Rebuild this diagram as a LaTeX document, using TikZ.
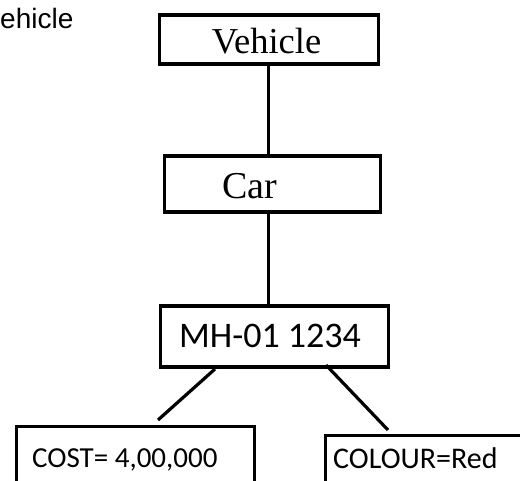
\documentclass[tikz,border=0pt]{standalone}
\usepackage{fontspec}
\setmainfont{Liberation Serif}
\newfontfamily\arialf{Liberation Sans}
\newfontfamily\calibrif{Carlito}
\begin{document}
\begin{tikzpicture}[x=1pt,y=-1pt,
  box/.style={draw=black, line width=3.3pt, inner sep=0pt, anchor=north west},
  conn/.style={draw=black, line width=3.2pt},
  lbl/.style={inner sep=0pt, anchor=base}]
\useasboundingbox (0,0) rectangle (520,481);
\clip (0,0) rectangle (520,481);
% side caption (cropped in the reference)
\node[inner sep=0pt, anchor=base west, font=\arialf\fontsize{28}{33}\selectfont] (cap) at (0,29) {ehicle};
% boxes
\node[box, minimum width=219pt, minimum height=49pt] (vehicle) at (157.5,13.5) {};
\node[box, minimum width=216pt, minimum height=56pt] (car) at (162.5,154.5) {};
\node[box, minimum width=228pt, minimum height=61pt] (mh) at (158.5,304.5) {};
\node[box, minimum width=238pt, minimum height=100pt] (cost) at (14.5,424.5) {};
\node[box, minimum width=250pt, minimum height=100pt] (colour) at (323.5,433.5) {};
% labels
\node[lbl, font=\fontsize{36.5}{42}\selectfont] (vehicletext) at (266.5,53.5) {Vehicle};
\node[lbl, font=\fontsize{38}{44}\selectfont] (cartext) at (249.5,198.5) {Car};
\node[lbl, font=\calibrif\fontsize{36}{42}\selectfont] (mhtext) at (270,348) {MH-01 1234};
\node[lbl, anchor=base west, font=\calibrif\fontsize{29}{34}\selectfont] (costtext) at (32,467) {COST= 4,00,000};
\node[lbl, anchor=base west, font=\calibrif\fontsize{30}{35}\selectfont] (colourtext) at (333,468) {COLOUR=Red};
% connectors
\draw[conn] (vehicle.south) -- (vehicle.south |- car.north);
\draw[conn] (vehicle.south |- car.south) -- (vehicle.south |- mh.north);
\coordinate (l1) at (215,369);
\coordinate (l2) at (158,420);
\coordinate (r1) at (326,365);
\coordinate (r2) at (388,430);
\draw[conn] (l1) -- (l2);
\draw[conn] (r1) -- (r2);
\end{tikzpicture}
\end{document}
